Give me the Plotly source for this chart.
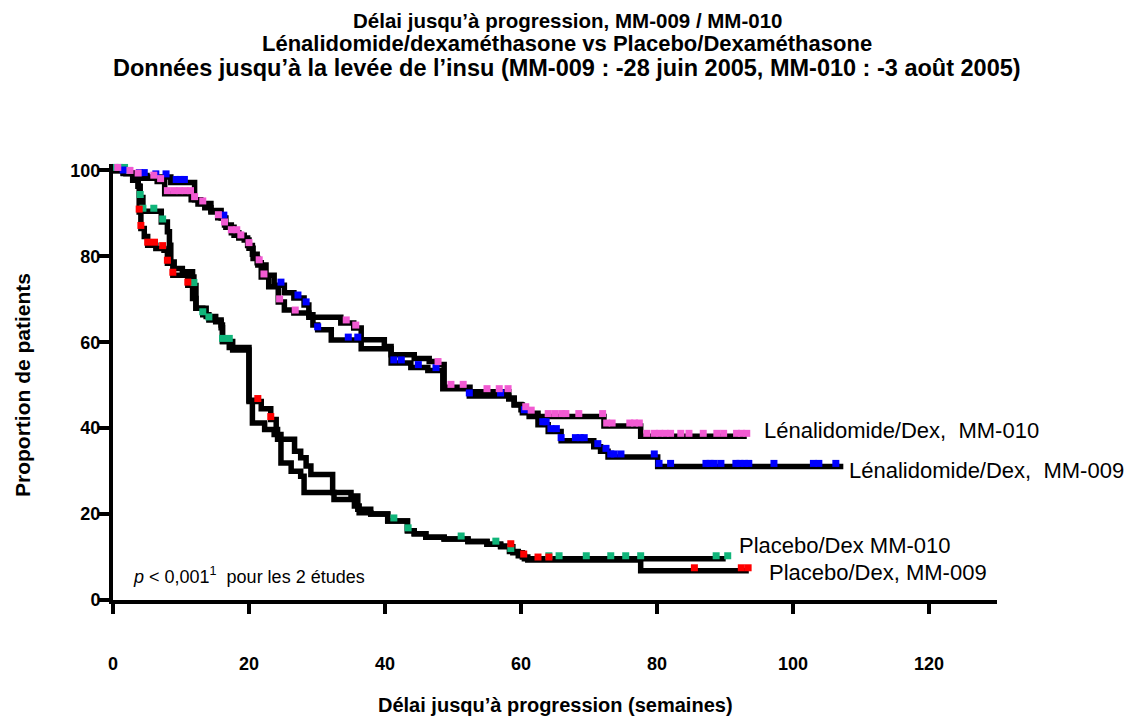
import numpy as np
import plotly.graph_objects as go

# ---------------- data ----------------
LEN010_T = [0, 1.5, 3, 4.5, 6.5, 7.6, 11.5, 12.5, 13.5, 14.4, 15.4, 16.4, 17.4, 18.5, 19.8, 20.5, 21.2, 21.8,
            22.9, 24.3, 25.2, 26.6, 28.8, 33.5, 35.4, 36.5, 39.9, 40.9, 44.3, 46.5, 47.8, 48.7, 52.5, 58.2,
            59, 60, 61.5, 62.5, 72.2, 77.6, 93.2]
LEN010_S = [100, 99.3, 98.7, 98.2, 97.4, 94.6, 93.2, 92.2, 91.3, 90.3, 89, 87.3, 85.5, 84.3, 82.5, 80.5, 78.5, 75.2,
            72.9, 69.4, 67.5, 66.8, 65.8, 64.5, 63.3, 60.6, 59, 57.1, 56.2, 55.5, 54.8, 49.5, 48.5, 47,
            45.5, 44.3, 43.5, 42.7, 40.5, 38.1, 38.1]
LEN010_C = [0.7, 2.5, 3.7, 6, 7, 8, 9, 9.8, 10.6, 11.4, 12, 13.2, 15.5, 16.4, 17.4, 18.2, 18.8, 20, 21.5, 22.2,
            24.5, 26.8, 34.3, 35.7, 47.8, 49.7, 51.5, 55, 56.8, 58.1, 60.7, 61.5, 64, 65, 66, 66.6, 68.5, 72,
            72.6, 73.4, 76, 76.7, 77.4, 78.5, 79.6, 80.4, 81.2, 82, 83.5, 84.7, 86.8, 88.8, 89.8, 91.7, 92.4, 93.2]

LEN009_T = [0, 1.5, 3, 5, 8.5, 12, 12.9, 14.4, 15.9, 16.6, 17.8, 19.3, 20, 20.6, 21.3, 22.5, 23.7, 25.2, 26.6,
            28.1, 28.8, 29.4, 30.1, 32.1, 36.5, 40.9, 43.8, 46.3, 48.5, 52.4, 58.2, 59, 60.2, 61.2, 62.5, 64,
            65.9, 70.7, 71.7, 72.8, 80.1, 107.4]
LEN009_S = [100, 99.4, 98.8, 98.5, 97.2, 93.2, 92.3, 90.7, 88.9, 86.8, 84.9, 83.8, 81.9, 79.5, 78, 75.6, 73.3, 71.5,
            70.3, 68.7, 66.4, 64, 62.9, 60.5, 58.5, 55.2, 54.1, 53.4, 49.2, 47.5, 46.8, 45.4, 43.6, 42.7, 40.8,
            39.2, 37.1, 35.7, 34.6, 33.3, 31.1, 31.1]
LEN009_C = [1.5, 3.9, 4.6, 6.3, 7.8, 9.3, 9.9, 10.5, 16.3, 24.7, 27.2, 28.4, 30.1, 34.6, 36, 41.3, 42.4, 44.9,
            47.5, 52.4, 57, 60.5, 63.2, 63.7, 64.4, 65.2, 65.9, 68, 68.7, 69.3, 71.3, 72.5, 73.2, 73.7, 74.7, 79.6,
            80.3, 82, 87.2, 87.8, 88.4, 89.4, 91.6, 92.2, 92.9, 93.5, 97.2, 103, 103.8, 106.3]

PLA010_T = [0, 1.9, 2.9, 3.7, 4.0, 4.4, 7.1, 8.0, 8.3, 8.5, 9.0, 10.2, 11.7, 11.9, 12.2, 13.2, 14.1, 15.9, 16.1,
            17.6, 20.0, 20.5, 22.3, 23.7, 24.7, 26.2, 27.6, 28.1, 32.5, 35.5, 36.2, 37.9, 40.4, 43.3, 44.3, 46,
            48.7, 52.2, 55, 57, 58.3, 59.6, 60.5, 90.1]
PLA010_S = [100, 99.3, 97.7, 96.3, 93.7, 90.5, 88, 85.7, 82.6, 78.7, 77.2, 76.4, 75.2, 73.2, 67.9, 66.4, 65.2, 64,
            60.2, 58.2, 46.5, 41.2, 39.7, 38.5, 31.9, 30, 28.8, 25, 23.4, 21.9, 20.3, 20, 18.4, 16.1, 15.4, 14.6,
            14.2, 13.6, 13, 12.6, 11.3, 10.3, 9.6, 9.6]
PLA010_C = [0.3, 1, 1.7, 2.4, 4.0, 4.4, 6.0, 7.3, 11.9, 13.2, 14.1, 16.1, 17.1, 41.3, 43.4, 51.2, 56.3, 58.5,
            64.1, 65.6, 69.6, 73.2, 75.4, 77.6, 88.7, 90.4]

PLA009_T = [0, 1.9, 2.9, 3.7, 3.85, 4.1, 4.6, 5.1, 6.3, 7.5, 8.0, 8.8, 11.0, 11.7, 12.2, 13.7, 15.1, 15.9, 16.1,
            17.1, 20.0, 21.8, 23.2, 24.0, 24.2, 26.7, 27.6, 28.4, 29.1, 32.3, 35, 36.0, 37.9, 40.4, 43.3, 44.3,
            46, 48.7, 52.2, 55, 57, 58.8, 60.2, 61, 77.6, 93.5]
PLA009_S = [100, 99.3, 97.7, 96.3, 90.3, 86.5, 84.6, 82.6, 81.8, 81.4, 78.4, 75.6, 73.3, 70.2, 67.9, 66, 64.8,
            63.4, 60.2, 58.8, 46.2, 44.5, 42, 39.7, 37.4, 34.6, 33.1, 31.2, 29.2, 25, 24.2, 21.1, 20, 18.4, 16.1,
            15.4, 14.6, 14.2, 13.6, 13, 12.4, 11, 10, 9.3, 6.8, 6.8]
PLA009_C = [3.85, 4.1, 5.1, 6.1, 7.3, 8.0, 8.8, 11.0, 21.3, 23.2, 58.5, 60.4, 62.5, 64.1, 85.5, 92.4, 93.4]

X_TICKS = [0, 20, 40, 60, 80, 100, 120]
Y_TICKS = [0, 20, 40, 60, 80, 100]

LABEL_LEN010 = "Lénalidomide/Dex,\u00a0\u00a0MM-010"
LABEL_LEN009 = "Lénalidomide/Dex,\u00a0\u00a0MM-009"
LABEL_PLA010 = "Placebo/Dex MM-010"
LABEL_PLA009 = "Placebo/Dex, MM-009"
P_TEXT = "<i>p</i> < 0,001<sup>1</sup>\u00a0 pour les 2 études"
X_TITLE = "Délai jusqu’à progression (semaines)"
Y_TITLE = "Proportion de patients"

TITLE_LINES = ["Délai jusqu’à progression, MM-009 / MM-010",
               "Lénalidomide/dexaméthasone vs Placebo/Dexaméthasone",
               "Données jusqu’à la levée de l’insu (MM-009 : -28 juin 2005, MM-010 : -3 août 2005)"]

FONT = "Liberation Sans, Arial, sans-serif"

curves = [
    (PLA010_T, PLA010_S, PLA010_C, "#10B57A"),
    (PLA009_T, PLA009_S, PLA009_C, "#FF0000"),
    (LEN009_T, LEN009_S, LEN009_C, "#0000FF"),
    (LEN010_T, LEN010_S, LEN010_C, "#F25AD2"),
]


def step_at(T, S, t):
    T = np.asarray(T)
    i = np.searchsorted(T, t, side="right") - 1
    i = np.clip(i, 0, len(S) - 1)
    return np.asarray(S)[i]


fig = go.Figure()
for T, S, C, col in curves:
    fig.add_trace(go.Scatter(x=T, y=S, mode="lines", line=dict(color="black", width=5.5, shape="hv"),
                             hoverinfo="skip", showlegend=False))
for T, S, C, col in curves:
    fig.add_trace(go.Scatter(x=C, y=step_at(T, S, np.asarray(C)) + 0.7, mode="markers",
                             marker=dict(symbol="square", size=7, color=col, line=dict(width=0)),
                             cliponaxis=False, showlegend=False))

ann = []
for txt, x, y, fs in [(LABEL_LEN010, 95.4, 39.5, 22), (LABEL_LEN009, 107.9, 30.2, 22),
                      (LABEL_PLA010, 91.8, 12.6, 22), (LABEL_PLA009, 96.2, 6.5, 22)]:
    ann.append(dict(text=txt, x=x, y=y, xref="x", yref="y", xanchor="left", yanchor="middle",
                    showarrow=False, font=dict(family=FONT, size=fs, color="black")))
ann.append(dict(text=P_TEXT, x=2.6, y=5.8, xref="x", yref="y", xanchor="left", yanchor="middle",
                showarrow=False, font=dict(family=FONT, size=18, color="black")))

# the page body adds an 8 px offset: positions below are page pixels minus 8
OFF = 8
PLOT_TOP, PLOT_H, PLOT_L, PLOT_W = 164 - OFF, 436, 113 - OFF, 884
W, H = 1135 - OFF, 717 - OFF
for txt, py, fs in zip(TITLE_LINES, [20, 44, 68], [20.5, 22, 23.5]):
    ann.append(dict(text="<b>" + txt + "</b>", x=(567 - OFF - PLOT_L) / PLOT_W, xref="paper",
                    y=1 + (PLOT_TOP - (py - OFF)) / PLOT_H,
                    yref="paper", xanchor="center", yanchor="middle", showarrow=False,
                    font=dict(family=FONT, size=fs, color="black")))
# axis titles
ann.append(dict(text="<b>" + X_TITLE + "</b>", x=(555 - OFF - PLOT_L) / PLOT_W, xref="paper",
                y=1 + (PLOT_TOP - (705 - OFF)) / PLOT_H, yref="paper", xanchor="center", yanchor="middle",
                showarrow=False, font=dict(family=FONT, size=20, color="black")))
ann.append(dict(text="<b>" + Y_TITLE + "</b>", x=(22 - OFF - PLOT_L) / PLOT_W, xref="paper",
                y=1 + (PLOT_TOP - (385 - OFF)) / PLOT_H, yref="paper", xanchor="center", yanchor="middle",
                textangle=-90, showarrow=False, font=dict(family=FONT, size=21, color="black")))

fig.update_layout(
    width=W, height=H,
    margin=dict(l=PLOT_L, r=W - PLOT_L - PLOT_W, t=PLOT_TOP, b=H - PLOT_TOP - PLOT_H),
    paper_bgcolor="white", plot_bgcolor="white",
    font=dict(family=FONT, color="black"),
    annotations=ann,
    xaxis=dict(range=[0, 130], tickvals=X_TICKS, ticks="outside", ticklen=10, tickwidth=4,
               tickcolor="black", showline=True, linewidth=4, linecolor="black", showgrid=False,
               zeroline=False, ticklabelstandoff=34, automargin=False,
               tickfont=dict(family=FONT, size=18, color="black", weight="bold")),
    yaxis=dict(range=[0, 101.5], tickvals=Y_TICKS, ticks="outside", ticklen=10, tickwidth=4,
               tickcolor="black", showline=True, linewidth=4, linecolor="black", showgrid=False,
               zeroline=False, automargin=False, ticklabelstandoff=-5,
               tickfont=dict(family=FONT, size=18, color="black", weight="bold")),
)

fig.write_html("out.html")
